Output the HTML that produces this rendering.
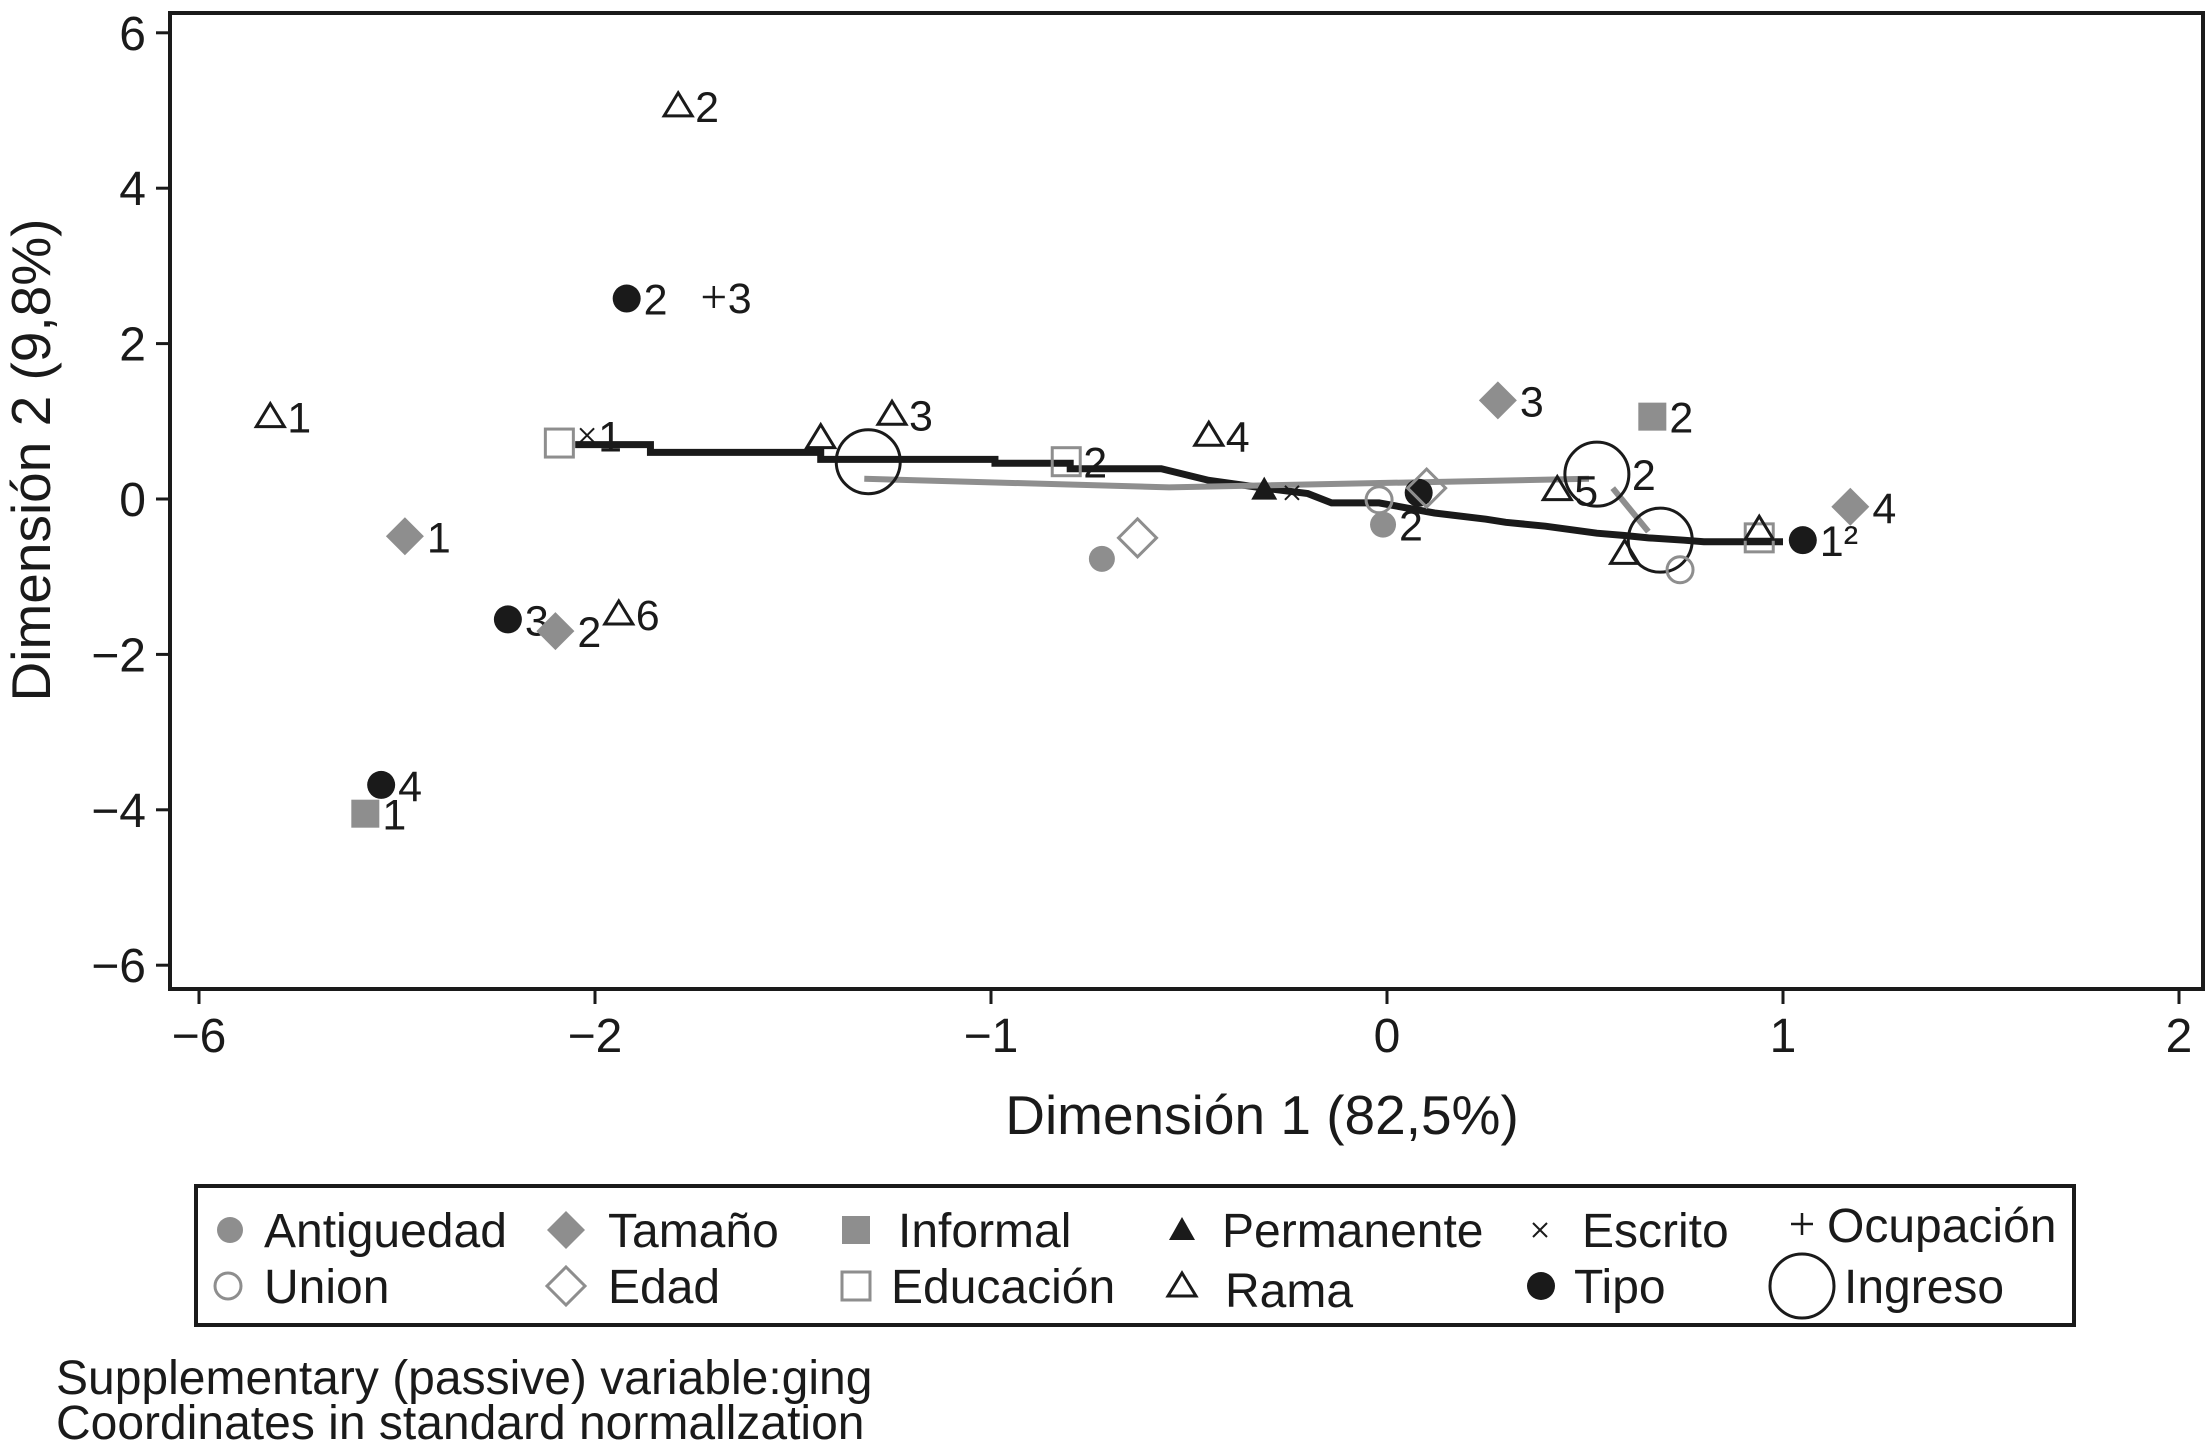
<!DOCTYPE html>
<html><head><meta charset="utf-8"><style>
html,body{margin:0;padding:0;background:#fff;}
svg{display:block;font-family:"Liberation Sans",sans-serif;}
</style></head><body>
<svg id="chart" width="2207" height="1453" viewBox="0 0 2207 1453" xmlns="http://www.w3.org/2000/svg">
<rect x="170" y="13" width="2033" height="976" fill="none" stroke="#1a1a1a" stroke-width="4"/>
<g id="axes"></g>
<g id="lines"></g>
<g id="points"></g>
<text x="1262" y="1134" font-size="55" text-anchor="middle" fill="#1a1a1a">Dimensión 1 (82,5%)</text>
<text transform="translate(50,460) rotate(-90)" font-size="55" text-anchor="middle" fill="#1a1a1a">Dimensión 2 (9,8%)</text>
<g id="legend">
<rect x="196" y="1186" width="1878" height="139" fill="none" stroke="#1a1a1a" stroke-width="4"/>
</g>
<text x="56" y="1394" font-size="48" fill="#1a1a1a">Supplementary (passive) variable:ging</text>
<text x="56" y="1439" font-size="48" fill="#1a1a1a">Coordinates in standard normallzation</text>
</svg>
<script>
// x-axis ticks (the "−6" label sits at scale position -3 in the original figure)
const xTickVals = [-3,-2,-1,0,1,2];
const xTickLabels = ["−6","−2","−1","0","1","2"];
const yTickVals = [6,4,2,0,-2,-4,-6];
const yTickLabels = ["6","4","2","0","−2","−4","−6"];
// points: [x, y]
const ptX = [-2.82,-1.79,-1.92,-1.70,-2.09,-2.02,-1.43,-1.31,-1.25,-0.81,-0.45,-2.48,-2.22,-2.10,-1.94,-2.54,-2.58,-0.72,-0.63,-0.31,-0.24,-0.02,0.08,0.10,-0.01,0.28,0.67,0.53,0.43,0.69,0.60,0.74,0.94,0.94,1.05,1.17];
const ptY = [1.06,5.06,2.58,2.60,0.72,0.82,0.79,0.48,1.09,0.48,0.82,-0.48,-1.55,-1.70,-1.48,-3.68,-4.05,-0.77,-0.50,0.12,0.08,-0.01,0.08,0.14,-0.33,1.27,1.06,0.32,0.12,-0.53,-0.70,-0.91,-0.50,-0.39,-0.53,-0.10];
const ptType = ["rama","rama","tipo","ocup","edu","escrito","rama","ingreso","rama","edu","rama","tamano","tipo","tamano","rama","tipo","informal","antig","edad","perm","escrito","union","tipo","edad","antig","tamano","informal","ingreso","rama","ingreso","rama","union","edu","rama","tipo","tamano"];
const ptLabel = ["1","2","2","3","","1","","","3","2","4","1","3","2","6","4","1","","","","","","","","2","3","2","2","5","","","","","","1²","4"];
// stepped black line and grey line vertices
const blackX = [-2.05,-1.86,-1.86,-1.43,-1.43,-0.99,-0.99,-0.80,-0.80,-0.57,-0.45,-0.31,-0.20,-0.14,-0.02,0.12,0.25,0.30,0.40,0.53,0.60,0.66,0.75,0.80,0.88,0.94,1.00];
const blackY = [0.70,0.70,0.60,0.60,0.51,0.51,0.46,0.46,0.39,0.39,0.24,0.14,0.07,-0.05,-0.05,-0.18,-0.26,-0.30,-0.35,-0.44,-0.47,-0.50,-0.53,-0.55,-0.55,-0.55,-0.55];
const greyX = [-1.32,-0.55,0.51];
const greyY = [0.26,0.15,0.26];
const grey2X = [0.57,0.66];
const grey2Y = [0.14,-0.42];

const NS="http://www.w3.org/2000/svg";
const X0=1387, XS=396, Y0=499, YS=77.7;
const sx=v=>X0+v*XS, sy=v=>Y0-v*YS;
const GREY="#8e8e8e", BLK="#1a1a1a";
function mk(tag,attrs,parent){const e=document.createElementNS(NS,tag);for(const k in attrs)e.setAttribute(k,attrs[k]);parent.appendChild(e);return e;}
const axes=document.getElementById('axes');
xTickVals.forEach((v,i)=>{
  const t=mk('line',{x1:sx(v),x2:sx(v),y1:989,y2:1004,stroke:BLK,'stroke-width':3},axes);
  
  
  const l=mk('text',{x:sx(v),y:1052,'font-size':48,'text-anchor':'middle',fill:BLK},axes);
  
  
  l.textContent=xTickLabels[i];
});
yTickVals.forEach((v,i)=>{
  const t=mk('line',{x1:156,x2:170,y1:sy(v),y2:sy(v),stroke:BLK,'stroke-width':3},axes);
  
  
  const l=mk('text',{x:146,y:sy(v)+17,'font-size':48,'text-anchor':'end',fill:BLK},axes);
  
  
  l.textContent=yTickLabels[i];
});
const lines=document.getElementById('lines');
function poly(xs,ys,col,w,name){
  const p=mk('polyline',{points:xs.map((x,i)=>sx(x)+','+sy(ys[i])).join(' '),fill:'none',stroke:col,'stroke-width':w,'stroke-linejoin':'miter'},lines);
  
  
}
poly(blackX,blackY,BLK,7,'black-path');
poly(greyX,greyY,GREY,6,'grey-path');
poly(grey2X,grey2Y,GREY,6,'grey-path-segment');

function marker(type,cx,cy,g){
  let r=15;
  switch(type){
    case 'antig': mk('circle',{cx,cy,r:13,fill:GREY},g); r=13; break;
    case 'union': mk('circle',{cx,cy,r:13,fill:'none',stroke:GREY,'stroke-width':3},g); r=13; break;
    case 'tamano': mk('polygon',{points:`${cx},${cy-19} ${cx+19},${cy} ${cx},${cy+19} ${cx-19},${cy}`,fill:GREY},g); r=19; break;
    case 'edad': mk('polygon',{points:`${cx},${cy-19} ${cx+19},${cy} ${cx},${cy+19} ${cx-19},${cy}`,fill:'none',stroke:GREY,'stroke-width':3},g); r=19; break;
    case 'informal': mk('rect',{x:cx-14,y:cy-14,width:28,height:28,fill:GREY},g); r=14; break;
    case 'edu': mk('rect',{x:cx-14,y:cy-14,width:28,height:28,fill:'none',stroke:GREY,'stroke-width':3},g); r=14; break;
    case 'perm': mk('polygon',{points:`${cx},${cy-13} ${cx+13},${cy+10} ${cx-13},${cy+10}`,fill:BLK},g); r=13; break;
    case 'rama': mk('polygon',{points:`${cx},${cy-13} ${cx+14},${cy+10} ${cx-14},${cy+10}`,fill:'none',stroke:BLK,'stroke-width':3},g); r=14; break;
    case 'escrito': mk('path',{d:`M${cx-7},${cy-7}L${cx+7},${cy+7}M${cx+7},${cy-7}L${cx-7},${cy+7}`,stroke:BLK,'stroke-width':2},g); r=8; break;
    case 'tipo': mk('circle',{cx,cy,r:14,fill:BLK},g); r=14; break;
    case 'ocup': mk('path',{d:`M${cx-11},${cy}L${cx+11},${cy}M${cx},${cy-11}L${cx},${cy+11}`,stroke:BLK,'stroke-width':2.5},g); r=11; break;
    case 'ingreso': mk('circle',{cx,cy,r:32,fill:'none',stroke:BLK,'stroke-width':3},g); r=32; break;
  }
  return r;
}
const pts=document.getElementById('points');
ptX.forEach((x,i)=>{
  const g=mk('g',{},pts);
  
  
  const cx=sx(x), cy=sy(ptY[i]);
  const r=marker(ptType[i],cx,cy,g);
  if(ptLabel[i]){
    const t=mk('text',{x:cx+r+3,y:cy+16,'font-size':43,fill:BLK},g);
    t.textContent=ptLabel[i];
  }
});
// legend
const leg=document.getElementById('legend');
const legTypes=["antig","tamano","informal","perm","escrito","ocup","union","edad","edu","rama","tipo","ingreso"];
const legNames=["Antiguedad","Tamaño","Informal","Permanente","Escrito","Ocupación","Union","Edad","Educación","Rama","Tipo","Ingreso"];
const legMX=[230,566,856,1182,1540,1802,228,566,856,1182,1541,1802];
const legTX=[264,608,898,1222,1582,1827,264,608,891,1225,1574,1844];
legTypes.forEach((t,i)=>{
  const g=mk('g',{},leg);
  
  
  const row=i<6?0:1;
  const cy=row?1286:1230;
  marker(t,legMX[i],t==='ocup'?1224:cy,g);
  const tx=mk('text',{x:legTX[i],y:row?1303:1247,'font-size':48,fill:BLK},g);
  if(t==='ocup') tx.setAttribute('y',1242);
  if(t==='rama') tx.setAttribute('y',1307);
  tx.textContent=legNames[i];
});
</script>
</body></html>
